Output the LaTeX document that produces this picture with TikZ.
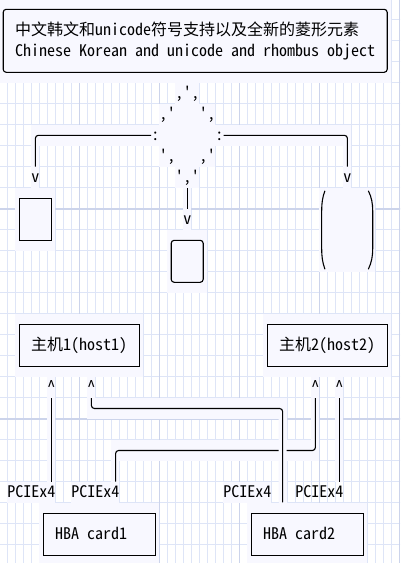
\documentclass[tikz,border=0pt]{standalone}
\usepackage{fontspec}
\setmonofont{Noto Sans Mono CJK SC}
\usepackage{tikz}
\usetikzlibrary{calc}
\definecolor{gridfine}{RGB}{222,229,247}
\definecolor{gridcoarse}{RGB}{204,212,235}
\definecolor{cellbg}{RGB}{248,248,255}
\newcommand{\cellstrut}{\rule[-5pt]{0pt}{21pt}}
\newcommand{\widespaces}{\spaceskip=8pt\relax}

\begin{document}
\begin{tikzpicture}[
  x=8pt, y=-21pt,
  font=\ttfamily\fontsize{16pt}{21pt}\selectfont,
  cell/.style={inner sep=0pt, text height=16pt, text depth=5pt},
  glyph/.style={cell, anchor=west},
  box/.style={rectangle, draw, line width=1.1pt, inner sep=0pt, minimum height=42pt},
  wire/.style={draw, line width=1.1pt, rounded corners=3pt}
]
\useasboundingbox (0pt,0pt) rectangle (400pt,-563pt);
\clip (0pt,0pt) rectangle (400pt,-563pt);
\fill[white] (0pt,0pt) rectangle (400pt,-563pt);

\begin{scope}[shift={(-0.8pt,1.2pt)}]
\foreach \c in {0,...,50} \draw[gridfine, line width=1pt] (\c,0) -- (\c,28);
\foreach \r in {0,...,27} \draw[gridfine, line width=1pt] (0,\r) -- (51,\r);
\foreach \c in {0,10,...,50} \draw[gridcoarse, line width=1.4pt] (\c,0) -- (\c,28);
\foreach \r in {0,10,20} \draw[gridcoarse, line width=1.4pt] (0,\r) -- (51,\r);

\foreach \a/\b/\c/\d in {0/0/49/4, 22/4/25/5, 20/5/27/6, 4/6/44/7, 20/7/27/8, 22/8/25/9,
    4/7/5/9, 43/7/44/9, 2/9/7/12, 23/9/24/11, 21/11/26/14, 40/9/47/13,
    2/15/18/18, 33/15/49/18, 6/18/7/19, 11/18/12/19, 39/18/40/19, 42/18/43/19,
    6/19/7/23, 11/19/36/20, 35/19/36/24, 39/19/40/22, 14/21/40/22, 14/21/15/23, 42/19/43/23,
    1/23/7/24, 9/23/15/24, 28/23/34/24, 5/24/20/27, 31/24/46/27}
  \fill[cellbg] (\a,\b) rectangle (\c,\d);

\node[box, rounded corners=3pt, minimum width=384pt, minimum height=63pt, text width=360pt, align=left] (title) at (24.5,2)
  {\widespaces\cellstrut 中文韩文和unicode符号支持以及全新的菱形元素\\\cellstrut Chinese Korean and unicode and rhombus object};

\foreach \c/\r/\t in {22/4/{,}, 23/4/', 24/4/{,}, 20/5/{,}, 21/5/', 25/5/', 26/5/{,},
    19/6/:, 27/6/:, 20/7/', 21/7/{,}, 25/7/{,}, 26/7/', 22/8/', 23/8/{,}, 24/8/'}
  \node[glyph] (dia-\c-\r) at (\c,\r+0.5) {\t};

\node[glyph] (vL) at (4,8.5) {v};
\node[glyph] (vR) at (43,8.5) {v};
\node[glyph] (vM) at (23,10.5) {v};

\draw[wire] (dia-19-6.west) -| (vL.north);
\draw[wire] (dia-27-6.east) -| (vR.north);
\draw[wire] (dia-23-8.south) -- (vM.north);

\node[box, minimum width=32pt] (lbox) at (4.5,10.5) {};
\node[box, rounded corners=3pt, minimum width=32pt] (mbox) at (23.5,12.5) {};
\draw[line width=1.1pt] (40.72,9.14) .. controls (40.4,9.45) and (40.31,9.75) .. (40.31,10.1) -- (40.31,11.9)
  .. controls (40.31,12.25) and (40.4,12.55) .. (40.72,12.88);
\draw[line width=1.1pt] (46.14,9.14) .. controls (46.55,9.45) and (46.69,9.75) .. (46.69,10.1) -- (46.69,11.9)
  .. controls (46.69,12.25) and (46.55,12.55) .. (46.14,12.88);

\node[box, cell, minimum width=120pt, text width=96pt, align=left] (host1) at (10,16.5) {主机1(host1)};
\node[box, cell, minimum width=120pt, text width=96pt, align=left] (host2) at (41,16.5) {主机2(host2)};

\node[glyph] (upA) at (6,18.5) {\textasciicircum};
\node[glyph] (upB) at (11,18.5) {\textasciicircum};
\node[glyph] (upC) at (39,18.5) {\textasciicircum};
\node[glyph] (upD) at (42,18.5) {\textasciicircum};

\node[glyph] (pciA) at (1,23.5) {PCIEx4};
\node[glyph] (pciB) at (9,23.5) {PCIEx4};
\node[glyph] (pciC) at (28,23.5) {PCIEx4};
\node[glyph] (pciD) at (37,23.5) {PCIEx4};

\node[box, cell, minimum width=112pt, text width=88pt, align=left] (card1) at (12.5,25.5) {\widespaces HBA card1};
\node[box, cell, minimum width=112pt, text width=88pt, align=left] (card2) at (38.5,25.5) {\widespaces HBA card2};
\coordinate (card2in) at ($(card2.north west)+(4,-0.5)$);

\draw[wire] (upA.south) -- (upA.south |- pciA.north);
\draw[wire] (upC.south) -- ++(0,2.5) -| ($(pciB.north east)+(-0.5,0)$);
\draw[wire, preaction={draw=cellbg, line width=8pt}] (upB.south) -- ++(0,0.5) -| (card2in);
\draw[wire] (upD.south) -- (upD.south |- pciD.north);
\end{scope}
\end{tikzpicture}
\end{document}
